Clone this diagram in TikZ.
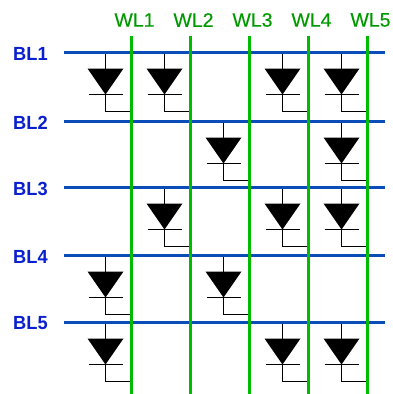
\documentclass[tikz,border=0pt]{standalone}
\usepackage{fontspec}
\setmainfont{Liberation Sans}
\newfontfamily\wlfont[FakeBold=0.2]{Liberation Sans}
\definecolor{blline}{HTML}{0B4DB8}
\definecolor{wlline}{HTML}{00BB00}
\definecolor{bltext}{HTML}{0A1FD0}
\definecolor{wltext}{HTML}{009A00}
\tikzset{
  bitline/.style={draw=blline,line width=2.6pt},
  wordline/.style={draw=wlline,line width=2.9pt},
  bllabel/.style={text=bltext,font=\fontsize{19}{19}\selectfont\bfseries,inner sep=0pt,anchor=west,xscale=0.96},
  wllabel/.style={text=wltext,font=\fontsize{19.5}{19.5}\wlfont,inner sep=0pt},
  wire/.style={draw=black,line width=1.3pt},
  diodebody/.style={fill=black,draw=none},
}
\newcommand{\diodeat}[3]{% #1 x of stem, #2 bit line name, #3 word line name
  \coordinate (top) at (#1,0 |- #2);
  \path (top) ++(0,16) coordinate (tri);
  \path (top) ++(0,42) coordinate (tip);
  \path (top) ++(0,59) coordinate (elbow);
  \draw[wire] (top) -- (elbow) -- (elbow -| #3);
  \fill[diodebody] ([xshift=-18pt]tri) -- ([xshift=18pt]tri) -- (tip) -- cycle;
  \draw[wire] ([xshift=-17pt]tip) -- ([xshift=17pt]tip);
}
\begin{document}
\begin{tikzpicture}[x=1pt,y=-1pt]
\useasboundingbox (0,0) rectangle (393,394);
% bit lines
\foreach \n/\y in {1/52.5,2/121.5,3/187.5,4/255.5,5/322.5}{
  \coordinate (BLs\n) at (64,\y);
  \coordinate (BLe\n) at (385,\y);
  \node[bllabel] (BLlab\n) at (13,\y+1) {BL\n};
}
% word lines
\foreach \n/\x in {1/131.5,2/190.5,3/249.5,4/308.5,5/367.5}{
  \coordinate (WLs\n) at (\x,36);
  \coordinate (WLe\n) at (\x,394);
  \node[wllabel] (WLlab\n) at (\x+3,20) {WL\n};
}
% diodes
\foreach \r/\c in {1/1,1/2,1/4,1/5,2/3,2/5,3/2,3/4,3/5,4/1,4/3,5/1,5/4,5/5}{
  \pgfmathsetmacro{\sx}{105.5+59*(\c-1)}
  \diodeat{\sx}{BLs\r}{WLs\c}
}
\foreach \n in {1,...,5}{ \draw[bitline] (BLs\n) -- (BLe\n); }
\foreach \n in {1,...,5}{ \draw[wordline] (WLs\n) -- (WLe\n); }
\end{tikzpicture}
\end{document}
